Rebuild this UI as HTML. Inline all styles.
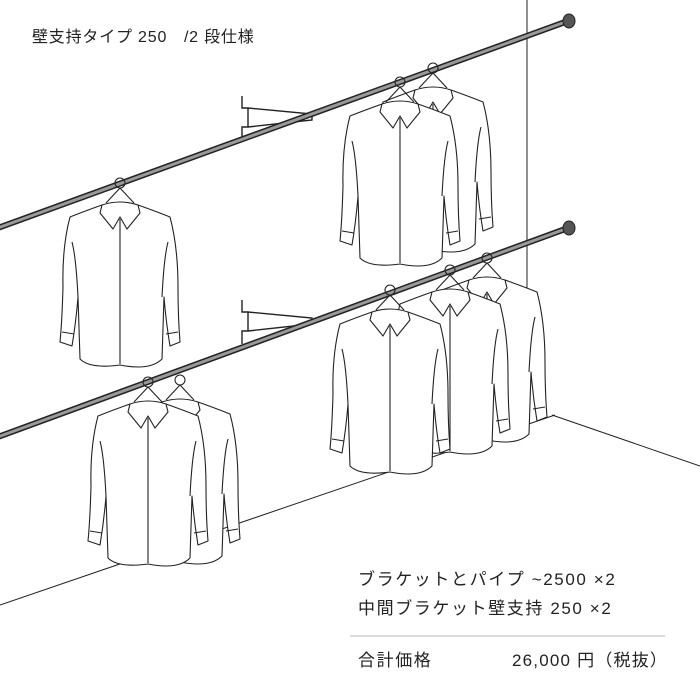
<!DOCTYPE html>
<html><head><meta charset="utf-8"><style>
html,body{margin:0;padding:0;background:#fff;}
svg{display:block}
text{font-family:"Liberation Sans","Noto Sans CJK JP",sans-serif;fill:#222}
</style></head><body>
<svg width="700" height="700" viewBox="0 0 700 700" xmlns="http://www.w3.org/2000/svg">
<defs>
<g id="shirt" fill="#fff" stroke="#222" stroke-width="1.1" stroke-linejoin="round">
  <circle cx="0" cy="-4" r="5" fill="none"/>
  <path d="M0,1 L-14,16 M0,1 L14,16" fill="none"/>
  <path d="M-18,18 Q-35,24 -50,30 Q-58,60 -57,100 Q-58,135 -60,155 L-48,159 Q-44,135 -42,110 L-40,172 Q-30,182 0,178 Q30,184 42,172 L44,110 Q46,135 50,159 L60,155 Q58,130 58,100 Q58,60 50,30 Q35,24 18,18 Z"/>
  <path d="M-18,18 L-20,26 L-7,42 L0,30 L7,42 L20,26 L18,18 Q0,12 -18,18 Z"/>
  <path d="M0,32 L0,177" fill="none"/>
  <path d="M-42,110 Q-44,70 -48,55 M42,110 Q44,70 48,55 M-58,145 L-46,147 M58,145 L46,147" fill="none"/>
</g>
</defs>
<line x1="527" y1="0" x2="527" y2="420" stroke="#222" stroke-width="1"/>
<line x1="0" y1="605" x2="555" y2="415" stroke="#222" stroke-width="1"/>
<line x1="552" y1="415" x2="700" y2="466" stroke="#222" stroke-width="1"/>
<g fill="none" stroke="#222" stroke-width="1.4">
  <path d="M242,96 L242,108 L248,108 L248,127 L242,127 L242,140 M248,108 L312,114 L312,120 L248,127"/>
  <path d="M242,300 L242,312 L248,312 L248,331 L242,331 L242,344 M248,312 L312,318 L312,324 L248,331"/>
</g>
<line x1="-5" y1="229" x2="568" y2="21" stroke="#222" stroke-width="6"/>
<line x1="-5" y1="229" x2="568" y2="21" stroke="#999" stroke-width="3"/>
<line x1="-5" y1="438" x2="568" y2="228" stroke="#222" stroke-width="6"/>
<line x1="-5" y1="438" x2="568" y2="228" stroke="#999" stroke-width="3"/>
<ellipse cx="569" cy="21" rx="6" ry="7" fill="#555" stroke="#222"/>
<ellipse cx="569" cy="228" rx="6" ry="7" fill="#555" stroke="#222"/>
<use href="#shirt" x="433" y="72"/>
<use href="#shirt" x="400" y="86"/>
<use href="#shirt" x="120" y="187"/>
<use href="#shirt" x="487" y="262"/>
<use href="#shirt" x="450" y="274"/>
<use href="#shirt" x="390" y="294"/>
<use href="#shirt" x="180" y="384"/>
<use href="#shirt" x="148" y="386"/>
<text x="32" y="42" font-size="16" letter-spacing="0.8">壁支持タイプ 250　/2 段仕様</text>
<text x="358" y="585" font-size="17" letter-spacing="1.6">ブラケットとパイプ ~2500 ×2</text>
<text x="358" y="614" font-size="17" letter-spacing="1.6">中間ブラケット壁支持 250 ×2</text>
<line x1="350" y1="636" x2="665" y2="636" stroke="#bbb" stroke-width="1"/>
<text x="358" y="666" font-size="17" letter-spacing="1.6">合計価格</text>
<text x="512" y="666" font-size="17" letter-spacing="1.2">26,000 円（税抜）</text>
</svg>
</body></html>
